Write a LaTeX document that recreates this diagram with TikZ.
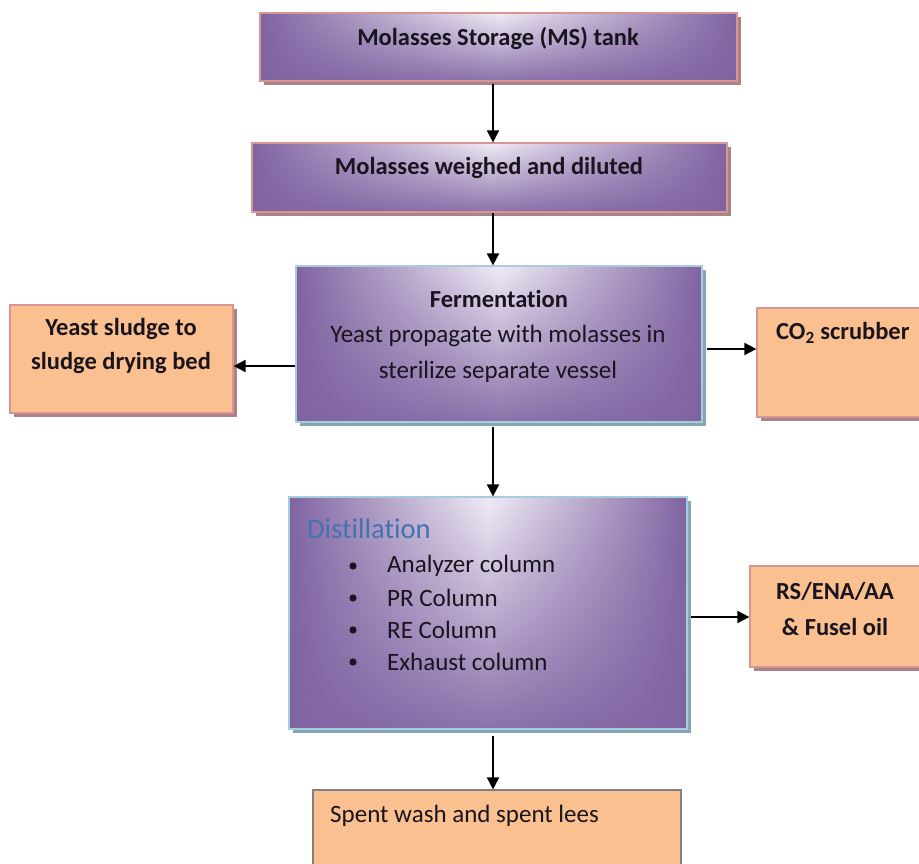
\documentclass[tikz,border=0pt]{standalone}
\usepackage{fontspec}
\setmainfont{Carlito}[Ligatures=NoCommon]
\usetikzlibrary{fadings,arrows.meta,shadows}
\definecolor{purp}{RGB}{128,100,162}
\definecolor{purplight}{RGB}{240,236,246}
\definecolor{orfill}{RGB}{250,192,143}
\definecolor{pinkbd}{RGB}{217,149,148}
\definecolor{bluebd}{RGB}{165,205,220}
\definecolor{shpink}{RGB}{170,130,138}
\definecolor{shblue}{RGB}{135,165,182}
\definecolor{distblue}{RGB}{68,114,176}
\definecolor{txt}{RGB}{25,20,30}
\tikzset{
  x=1pt, y=-1pt,
  pbox/.style={draw=#1, line width=1.2pt, inner sep=0pt,
    left color=purp, right color=purp, middle color=purplight,
    path picture={\fill[purp, path fading=north, fill opacity=0.9]
      (path picture bounding box.south west) rectangle (path picture bounding box.north east);}},
  obox/.style={draw=#1, line width=1.2pt, inner sep=0pt, fill=orfill},
  shp/.style={general shadow={fill=shpink, shadow xshift=4pt, shadow yshift=-4pt}},
  shb/.style={general shadow={fill=shblue, shadow xshift=4pt, shadow yshift=-4pt}},
  arr/.style={-{Triangle[length=12pt,width=12pt]}, line width=1.8pt, black},
  lbl/.style={font=\fontsize{25}{29}\selectfont, inner sep=0pt, text=txt},
  blbl/.style={font=\fontsize{24.5}{29}\selectfont\bfseries, inner sep=0pt, text=txt},
}
\begin{document}
\begin{tikzpicture}
\useasboundingbox (0,0) rectangle (919,864);
% boxes
\node[pbox=pinkbd, shp, minimum width=477pt, minimum height=68pt] (ms) at (498.5,47) {};
\node[pbox=pinkbd, shp, minimum width=475pt, minimum height=69pt] (wd) at (489.5,177.5) {};
\node[pbox=bluebd, shb, minimum width=406pt, minimum height=156pt] (fe) at (499,344) {};
\node[obox=pinkbd, shp, minimum width=223pt, minimum height=108pt] (ys) at (121.5,359) {};
\node[obox=pinkbd, shp, minimum width=180pt, minimum height=109pt] (co) at (847,362.5) {};
\node[pbox=bluebd, shb, minimum width=398pt, minimum height=232pt] (di) at (488,613) {};
\node[obox=pinkbd, shp, minimum width=180pt, minimum height=101pt] (rs) at (840,616.5) {};
\node[obox=gray, minimum width=368pt, minimum height=90pt] (sp) at (497,835) {};
% texts
\node[blbl] (t1) at (498,38) {Molasses Storage (MS) tank};
\node[blbl] (t2) at (489,168) {Molasses weighed and diluted};
\node[blbl] (t3) at (499,299) {Fermentation};
\node[lbl] (t4) at (498,336) {Yeast propagate with molasses in};
\node[lbl] (t5) at (498,372) {sterilize separate vessel};
\node[blbl] (t6) at (121,329) {Yeast sludge to};
\node[blbl] (t7) at (121,363) {sludge drying bed};
\node[blbl, anchor=west] (t8) at (776,333) {CO\textsubscript{2} scrubber};
\node[lbl, anchor=west, text=distblue, font=\fontsize{28.5}{32}\selectfont] (t9) at (307,529) {Distillation};
\foreach \yy/\tt [count=\i] in {566/Analyzer column, 598/PR Column, 630/RE Column, 662/Exhaust column}{
  \fill[txt] (353,\yy) circle (3.6pt);
  \node[lbl, anchor=west] (b\i) at (387,\yy) {\tt};
}
\node[blbl] (t10) at (835,591) {RS/ENA/AA};
\node[blbl] (t11) at (835,627) {\& Fusel oil};
\node[lbl, anchor=west] (t12) at (330,816) {Spent wash and spent lees};
% arrows
\draw[arr] (ms.south -| 493,0) ++(0,2) -- (wd.north -| 493,0);
\draw[arr] (wd.south -| 493,0) -- (fe.north -| 493,0);
\draw[arr] (fe.south -| 493,0) ++(0,4) -- (di.north -| 493,0);
\draw[arr] (fe.west |- 0,366) -- (ys.east |- 0,366);
\draw[arr] (fe.east |- 0,349) ++(4,0) -- (co.west |- 0,349);
\draw[arr] (di.east |- 0,617) ++(3,0) -- (rs.west |- 0,617);
\draw[arr] (di.south -| 493,0) ++(0,6) -- (sp.north -| 493,0);
\end{tikzpicture}
\end{document}
